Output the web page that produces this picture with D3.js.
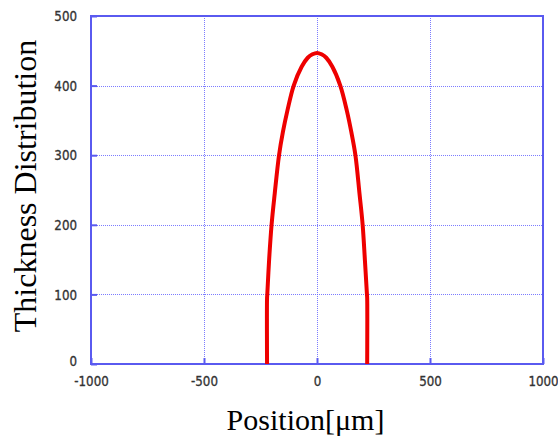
<!DOCTYPE html>
<html><head><meta charset="utf-8">
<script src="https://cdn.jsdelivr.net/npm/d3@7"></script>
<style>body{margin:0;background:#fff}</style>
</head><body>
<svg id="c" width="558" height="437"></svg>
<script>
const position = [-221, -221, -220, -212, -201, -187, -168, -151, -131, -103, -68, -41, -20, 0, 20, 41, 68, 103, 132, 152, 170, 188, 202, 212, 221, 222, 222];
const thickness = [0, 95, 100, 149, 200, 245, 300, 333, 364, 400, 427, 440, 445, 447, 445, 440, 427, 400, 364, 333, 300, 245, 200, 149, 100, 95, 0];
const xTicks = [-1000, -500, 0, 500, 1000];
const yTicks = [0, 100, 200, 300, 400, 500];

const svg = d3.select("#c");
const L = 91, R = 543, T = 16, B = 364;
const x = d3.scaleLinear().domain([-1000, 1000]).range([L, R]);
const y = d3.scaleLinear().domain([0, 500]).range([B, T]);
const axisBlue = "#5a5af0", gridBlue = "#5c5cff";
const snap = v => Math.round(v) + 0.5;

// grid
svg.append("g").selectAll("line").data(xTicks.slice(1, -1)).join("line")
  .attr("x1", d => snap(x(d))).attr("x2", d => snap(x(d))).attr("y1", T).attr("y2", B)
  .attr("stroke", gridBlue).attr("stroke-width", 1).attr("stroke-dasharray", "1,1").attr("opacity", 0.8);
svg.append("g").selectAll("line").data(yTicks.slice(1, -1)).join("line")
  .attr("y1", d => snap(y(d))).attr("y2", d => snap(y(d))).attr("x1", L).attr("x2", R)
  .attr("stroke", gridBlue).attr("stroke-width", 1).attr("stroke-dasharray", "1,1").attr("opacity", 0.8);

// frame
svg.append("rect").attr("x", L).attr("y", T).attr("width", R - L).attr("height", B - T)
  .attr("fill", "none").attr("stroke", axisBlue).attr("stroke-width", 2);

// axes (ticks inside)
const sx = 0.82;
const yAxis = svg.append("g").attr("transform", `translate(${L},0)`)
  .call(d3.axisLeft(y).tickValues(yTicks).tickSize(-6).tickPadding(14).tickFormat(d3.format("d")));
const xAxis = svg.append("g").attr("transform", `translate(0,${B})`)
  .call(d3.axisBottom(x).tickValues(xTicks).tickSize(-6).tickPadding(12).tickFormat(d => d < 0 ? "-" + Math.abs(d) : d));
[yAxis, xAxis].forEach(a => {
  a.select(".domain").remove();
  a.selectAll(".tick line").attr("stroke", axisBlue).attr("stroke-width", 2);
  a.selectAll(".tick text").attr("fill", "#333").attr("stroke", "#333").attr("stroke-width", 0.35)
    .style("font-family", "'DejaVu Sans',sans-serif").style("font-size", "14.5px")
    .attr("transform", `scale(${sx},1)`);
});
yAxis.selectAll(".tick text").attr("x", -14 / sx);
yAxis.selectAll(".tick text").filter(d => d === 0).attr("dy", "0.1em");

// curve
const line = d3.line().x((d, i) => x(position[i])).y((d, i) => y(thickness[i])).curve(d3.curveCatmullRom.alpha(0.5));
svg.append("path").datum(position).attr("d", line)
  .attr("fill", "none").attr("stroke", "#ee0000").attr("stroke-width", 4).attr("stroke-linejoin", "round");

// titles
svg.append("text").attr("x", 305.5).attr("y", 430).attr("text-anchor", "middle")
  .style("font-family", "'Liberation Serif','Times New Roman',serif").style("font-size", "30px").attr("fill", "#000")
  .text("Position[μm]");
svg.append("text").attr("transform", "translate(36,186) rotate(-90)").attr("text-anchor", "middle")
  .style("font-family", "'Liberation Serif','Times New Roman',serif").style("font-size", "32px").attr("fill", "#000")
  .text("Thickness Distribution");
</script>
</body></html>
